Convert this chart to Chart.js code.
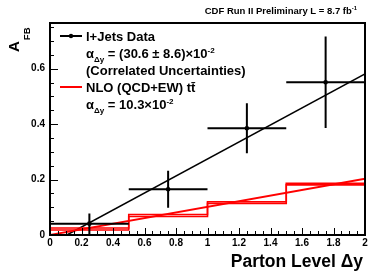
<!DOCTYPE html>
<html><head><meta charset="utf-8">
<script src="https://cdn.jsdelivr.net/npm/chart.js@4/dist/chart.umd.min.js"></script>
<style>html,body{margin:0;padding:0;background:#fff}#wrap{width:384px;height:277px;position:relative}</style>
</head><body><div id="wrap"><canvas id="c" width="384" height="277"></canvas></div>
<script>
// ---- data ----
const binEdges = [0, 0.5, 1, 1.5, 2];
const dataX = [0.25, 0.75, 1.25, 1.75];
const dataY = [0.041, 0.165, 0.385, 0.551];
const dataXErr = [0.25, 0.25, 0.25, 0.25];
const dataYErr = [0.037, 0.067, 0.090, 0.165];
const nloUpper = [0.025, 0.074, 0.120, 0.187];
const nloLower = [0.018, 0.067, 0.114, 0.181];
const fitX = [0.107, 2];
const fitY = [0, 0.581];
const nloFitX = [0, 2];
const nloFitY = [0, 0.203];
const xTickLabels = [0, 0.2, 0.4, 0.6, 0.8, 1, 1.2, 1.4, 1.6, 1.8, 2];
const yTickLabels = [0, 0.2, 0.4, 0.6];

const FONT = '"Liberation Sans", Arial, Helvetica, sans-serif';

function stepPts(vals){
  const p = vals.map((v,i)=>({x:binEdges[i], y:v}));
  p.push({x:binEdges[binEdges.length-1], y:vals[vals.length-1]});
  return p;
}

function drawRich(ctx, x, y, segs, size){
  let cx = x;
  for(const s of segs){
    const fs = s.sub||s.sup ? size*0.62 : size;
    ctx.font = 'bold '+fs+'px '+FONT;
    const dy = s.sub ? size*0.28 : (s.sup ? -size*0.42 : 0);
    ctx.fillText(s.t, cx, y+dy);
    cx += ctx.measureText(s.t).width;
  }
  return cx;
}
function richWidth(ctx, segs, size){
  let w=0;
  for(const s of segs){
    const fs = s.sub||s.sup ? size*0.62 : size;
    ctx.font = 'bold '+fs+'px '+FONT;
    w += ctx.measureText(s.t).width;
  }
  return w;
}

const decor = {
  id:'decor',
  afterDatasetsDraw(chart){
    const ctx = chart.ctx, a = chart.chartArea;
    const xs = chart.scales.x, ys = chart.scales.y;
    ctx.save();
    ctx.beginPath(); ctx.rect(a.left, a.top, a.right-a.left, a.bottom-a.top); ctx.clip();
    ctx.strokeStyle = '#000'; ctx.lineWidth = 2;
    for(let i=0;i<dataX.length;i++){
      const px = xs.getPixelForValue(dataX[i]), py = ys.getPixelForValue(dataY[i]);
      ctx.beginPath();
      ctx.moveTo(xs.getPixelForValue(dataX[i]-dataXErr[i]), py);
      ctx.lineTo(xs.getPixelForValue(dataX[i]+dataXErr[i]), py);
      ctx.moveTo(px, ys.getPixelForValue(dataY[i]+dataYErr[i]));
      ctx.lineTo(px, ys.getPixelForValue(dataY[i]-dataYErr[i]));
      ctx.stroke();
    }
    ctx.restore();
  },
  afterDraw(chart){
    const ctx = chart.ctx, a = chart.chartArea;
    const xs = chart.scales.x, ys = chart.scales.y;
    ctx.save();
    ctx.strokeStyle = '#000'; ctx.lineWidth = 2;
    ctx.strokeRect(a.left, a.top, a.right-a.left, a.bottom-a.top);
    ctx.lineWidth = 1;
    ctx.beginPath();
    for(let k=0;k<=40;k++){
      const v = k*0.05;
      const px = Math.round(xs.getPixelForValue(v))+0.5;
      const len = (k%4===0) ? 7 : 4;
      ctx.moveTo(px, a.bottom); ctx.lineTo(px, a.bottom-len);
    }
    for(let k=0;k*0.05<=ys.max+1e-9;k++){
      const v = k*0.05;
      const py = Math.round(ys.getPixelForValue(v))+0.5;
      const len = (k%4===0) ? 8 : 4;
      ctx.moveTo(a.left, py); ctx.lineTo(a.left+len, py);
    }
    ctx.stroke();

    ctx.fillStyle = '#000';
    ctx.textBaseline = 'alphabetic';
    ctx.textAlign = 'left';
    const tsegs = [{t:'CDF Run II Preliminary L = 8.7 fb'},{t:'-1',sup:true}];
    const tw = richWidth(ctx, tsegs, 9.5);
    drawRich(ctx, 357-tw, 13.5, tsegs, 9.5);
    const xsegs = [{t:'Parton Level \u0394y'}];
    const xw = richWidth(ctx, xsegs, 17.5);
    drawRich(ctx, 363-xw, 267, xsegs, 17.5);
    ctx.save();
    ctx.translate(19, 52);
    ctx.rotate(-Math.PI/2);
    ctx.font = 'bold 15px '+FONT;
    ctx.fillText('A', 0, 0);
    const aw = ctx.measureText('A').width;
    ctx.font = 'bold 9.5px '+FONT;
    ctx.fillText('FB', aw+1, 10.5);
    ctx.restore();

    ctx.strokeStyle = '#000'; ctx.lineWidth = 2;
    ctx.beginPath(); ctx.moveTo(60, 36); ctx.lineTo(82, 36); ctx.stroke();
    ctx.beginPath(); ctx.arc(71, 36, 2.2, 0, Math.PI*2); ctx.fill();
    ctx.strokeStyle = '#ff0000';
    ctx.beginPath(); ctx.moveTo(60, 87); ctx.lineTo(82, 87); ctx.stroke();
    const LX = 86, S = 13;
    drawRich(ctx, LX, 41, [{t:'l+Jets Data'}], S);
    drawRich(ctx, LX, 58, [{t:'\u03b1'},{t:'\u0394y',sub:true},{t:' = (30.6 \u00b1 8.6)\u00d710'},{t:'-2',sup:true}], S);
    drawRich(ctx, LX, 75, [{t:'(Correlated Uncertainties)'}], S);
    drawRich(ctx, LX, 92, [{t:'NLO (QCD+EW) tt\u0304'}], S);
    drawRich(ctx, LX, 109, [{t:'\u03b1'},{t:'\u0394y',sub:true},{t:' = 10.3\u00d710'},{t:'-2',sup:true}], S);
    ctx.restore();
  }
};

new Chart(document.getElementById('c'), {
  type:'scatter',
  data:{
    datasets:[
      {data:stepPts(nloUpper), showLine:true, stepped:'before', borderColor:'#ff0000', borderWidth:1.6, pointRadius:0, fill:false},
      {data:stepPts(nloLower), showLine:true, stepped:'before', borderColor:'#ff0000', borderWidth:1.6, pointRadius:0, fill:false},
      {data:nloFitX.map((x,i)=>({x, y:nloFitY[i]})), showLine:true, borderColor:'#ff0000', borderWidth:1.8, pointRadius:0},
      {data:fitX.map((x,i)=>({x, y:fitY[i]})), showLine:true, borderColor:'#000', borderWidth:1.5, pointRadius:0},
      {data:dataX.map((x,i)=>({x, y:dataY[i]})), showLine:false, pointRadius:2.3, pointBackgroundColor:'#000', pointBorderWidth:0, borderColor:'#000'}
    ]
  },
  options:{
    responsive:false, animation:false, devicePixelRatio:1,
    layout:{padding:{left:0, top:23, right:19, bottom:0}},
    plugins:{legend:{display:false}, tooltip:{enabled:false}},
    scales:{
      x:{type:'linear', min:0, max:2,
         afterBuildTicks:(s)=>{ s.ticks = xTickLabels.map(v=>({value:v})); },
         afterFit:(s)=>{ s.height = 42; },
         grid:{display:false, drawTicks:false}, border:{display:false},
         ticks:{autoSkip:false, maxRotation:0, padding:2, color:'#000',
           font:{family:FONT, weight:'bold', size:10},
           callback:(v)=>String(Math.round(v*10)/10)}},
      y:{type:'linear', min:0, max:0.765,
         afterBuildTicks:(s)=>{ s.ticks = yTickLabels.map(v=>({value:v})); },
         afterFit:(s)=>{ s.width = 50; },
         grid:{display:false, drawTicks:false}, border:{display:false},
         ticks:{autoSkip:false, padding:5, color:'#000',
           font:{family:FONT, weight:'bold', size:10},
           callback:(v)=>String(Math.round(v*10)/10)}}
    }
  },
  plugins:[decor]
});
</script></body></html>
